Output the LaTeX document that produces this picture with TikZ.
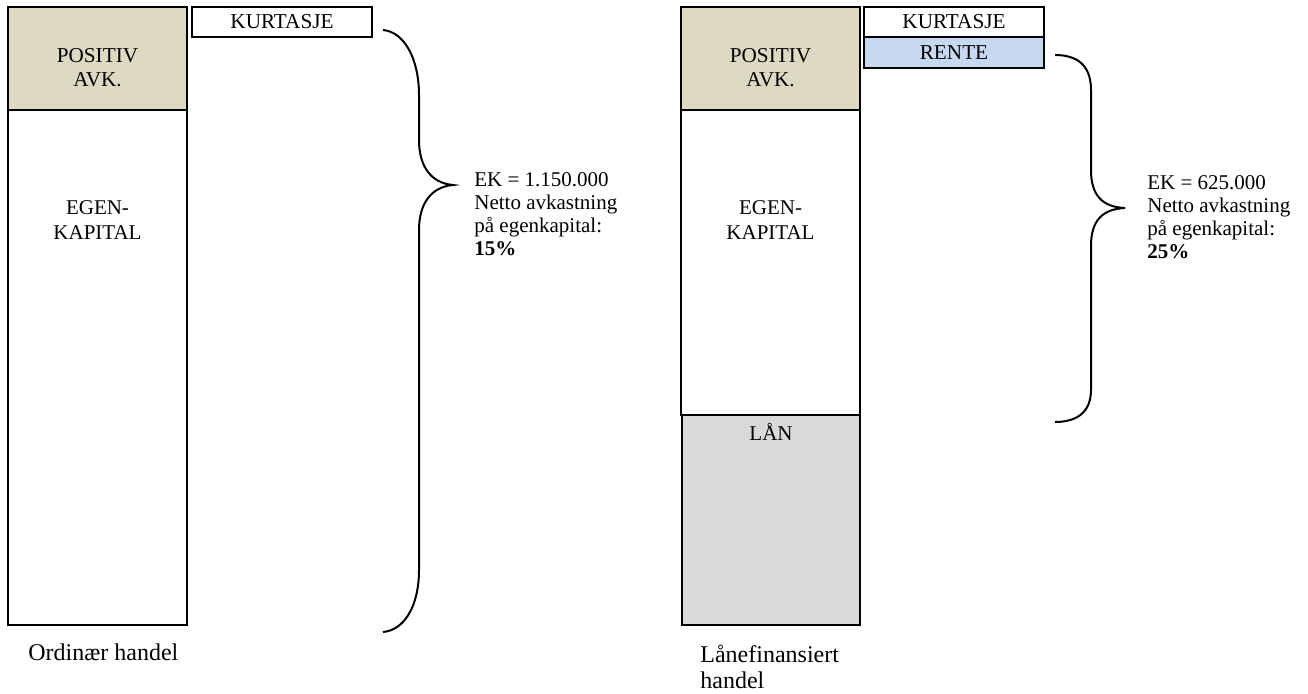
\documentclass[tikz,border=0pt]{standalone}
\usepackage{fontspec}
\setmainfont{Liberation Serif}
\definecolor{avkfarge}{HTML}{DDD9C3}
\definecolor{laanfarge}{HTML}{D9D9D9}
\definecolor{rentefarge}{HTML}{C6D9F1}

\begin{document}
\begin{tikzpicture}[x=0.5pt, y=-0.5pt,
    boks/.style={draw, line width=1pt},
    klamme/.style={draw, line width=1pt},
    tekst/.style={inner sep=0pt, align=center, anchor=base, font=\fontsize{10.5}{12.5}\selectfont},
    forklaring/.style={inner sep=0pt, align=left, anchor=base west, font=\fontsize{10.5}{11.5}\selectfont},
    undertekst/.style={inner sep=0pt, align=left, anchor=base west, font=\fontsize{12}{13}\selectfont}]

    \useasboundingbox (0,0) rectangle (1308,693);

    % ordinaer handel
    \draw[boks, fill=avkfarge] (8,7) rectangle (187,110);
    \draw[boks] (8,110) rectangle (187,625);
    \draw[boks] (192,7) rectangle (372,37);

    \node[tekst, font=\fontsize{10.6}{12}\selectfont] (avk1) at (97.5,86) {POSITIV\\AVK.};
    \node[tekst] (ek1) at (97.5,239) {EGEN-\\KAPITAL};
    \node[tekst, font=\fontsize{10.6}{12}\selectfont] (kurt1) at (282,28) {KURTASJE};

    \draw[klamme] (383,30) .. controls (405,32) and (419,60) .. (419,95) -- (419,140)
      .. controls (419,165) and (430,183) .. (453,185)
      .. controls (430,187) and (419,205) .. (419,230) -- (419,570)
      .. controls (419,605) and (405,630) .. (383,632);

    \node[forklaring] (netto1) at (474,255) {EK = 1.150.000\\Netto avkastning\\på egenkapital:\\\textbf{15\%}};
    \node[undertekst] (ord) at (28,660) {Ordinær handel};

    % laanefinansiert handel
    \draw[boks, fill=laanfarge] (682,415) rectangle (860,625);
    \draw[boks, fill=avkfarge] (681,7) rectangle (860,110);
    \draw[boks] (681,110) rectangle (860,415);
    \draw[boks] (864,7) rectangle (1044,37);
    \draw[boks, fill=rentefarge] (864,37) rectangle (1044,68);

    \node[tekst, font=\fontsize{10.6}{12}\selectfont] (avk2) at (770.5,86) {POSITIV\\AVK.};
    \node[tekst] (ek2) at (770.5,239) {EGEN-\\KAPITAL};
    \node[tekst] (laan) at (771,440) {LÅN};
    \node[tekst, font=\fontsize{10.6}{12}\selectfont] (kurt2) at (954,28) {KURTASJE};
    \node[tekst, font=\fontsize{10.6}{12}\selectfont] (rente) at (954,59) {RENTE};

    \draw[klamme] (1055,55) .. controls (1077,55) and (1091,65) .. (1091,90) -- (1091,170)
      .. controls (1091,195) and (1102,207) .. (1125,208)
      .. controls (1102,209) and (1091,221) .. (1091,246) -- (1091,390)
      .. controls (1091,412) and (1077,422) .. (1055,422);

    \node[forklaring] (netto2) at (1147,258) {EK = 625.000\\Netto avkastning\\på egenkapital:\\\textbf{25\%}};
    \node[undertekst] (laanhandel) at (700,688) {Lånefinansiert\\handel};

  \end{tikzpicture}
\end{document}
